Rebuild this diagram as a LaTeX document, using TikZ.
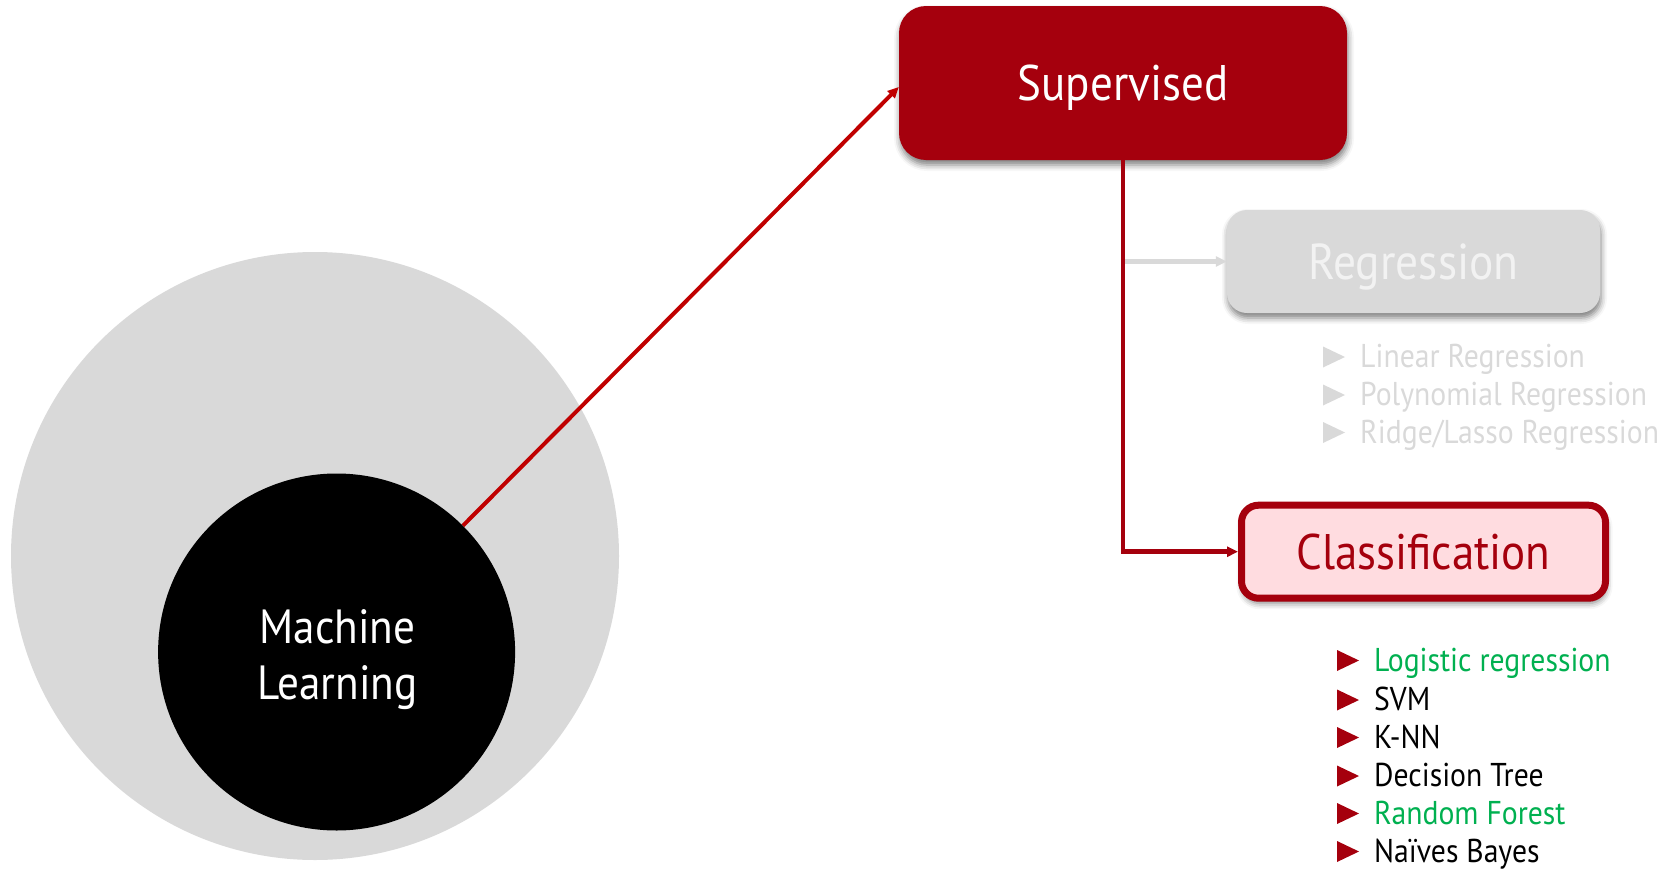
\documentclass[tikz,border=0pt]{standalone}
\usepackage{fontspec}
\setmainfont{PT Sans}[FakeStretch=0.90]
\usetikzlibrary{shadows.blur,arrows.meta,calc}

\definecolor{darkred}{HTML}{A5000D}
\definecolor{brightred}{HTML}{C00000}
\definecolor{softgray}{HTML}{D9D9D9}
\definecolor{paletext}{HTML}{F2F2F2}
\definecolor{pinkfill}{HTML}{FFDCE0}
\definecolor{leafgreen}{HTML}{00B050}

\tikzset{
  boxshadow/.style={blur shadow={shadow xshift=1pt, shadow yshift=-5pt,
      shadow blur radius=6pt, shadow opacity=50}},
  redbox/.style={boxshadow, fill=darkred, draw=none, rounded corners=27pt,
      minimum width=448pt, minimum height=154pt, inner sep=0pt,
      text=white, font=\fontsize{50}{60}\selectfont,
      text height=35pt, text depth=0pt},
  graybox/.style={boxshadow, fill=softgray, draw=none, rounded corners=20pt,
      minimum width=373pt, minimum height=103pt, inner sep=0pt,
      text=paletext, font=\fontsize{50.5}{60}\selectfont,
      text height=35.4pt, text depth=0pt},
  pinkbox/.style={boxshadow, fill=pinkfill, draw=darkred, line width=7pt,
      rounded corners=17pt, minimum width=364pt, minimum height=93pt,
      inner sep=0pt, text=darkred, font=\fontsize{50}{60}\selectfont,
      text height=35pt, text depth=0pt},
  item/.style={anchor=base west, inner sep=0pt, font=\fontsize{33}{33}\selectfont},
  tip/.style={-{Triangle[length=11pt,width=10pt]}},
}

\begin{document}
\begin{tikzpicture}[x=1pt,y=-1pt]
\useasboundingbox (0,0) rectangle (1665,870);

% outer disc and the central topic
\fill[softgray] (315,556) circle[radius=304pt];
\node[circle, fill=black, minimum size=357pt, inner sep=0pt] (ml) at (336.6,652) {};
\node[text=white, align=center, inner sep=0pt,
      font=\fontsize{48}{56}\selectfont] (mltext) at ($(ml.center)+(1,7.5)$)
      {Machine\\Learning};

% category boxes
\node[redbox] (sup) at (1123,83) {Supervised};
\node[graybox] (reg) at (1413.5,261.5) {Regression};
\node[pinkbox] (cls) at (1423.5,551.7) {Classification};

% connectors
\draw[brightred, line width=4pt, tip] (ml.45) -- ($(sup.west)+(0,4)$);
\draw[softgray, line width=4.5pt, tip] (sup.south |- reg.west) -- (reg.west);
\draw[darkred, line width=4.5pt, tip] (sup.south) |- (cls.west);

% regression methods
\foreach \y/\t/\n in {367.5/Linear Regression/r1, 405.5/Polynomial Regression/r2,
                      443/Ridge{/}Lasso Regression/r3}{
  \fill[softgray] (1323,\y) -- (1345,\y-10.5) -- (1323,\y-21) -- cycle;
  \node[item, text=softgray] (\n) at (1360,\y) {\t};
}

% classification methods
\foreach \y/\t/\c/\n in {671/Logistic regression/leafgreen/c1, 710.5/SVM/black/c2,
                         748/K-NN/black/c3, 786.5/Decision Tree/black/c4,
                         824/Random Forest/leafgreen/c5, 862/Naïves Bayes/black/c6}{
  \fill[darkred] (1337,\y) -- (1359,\y-10.5) -- (1337,\y-21) -- cycle;
  \node[item, text=\c] (\n) at (1374,\y) {\t};
}
\end{tikzpicture}
\end{document}
